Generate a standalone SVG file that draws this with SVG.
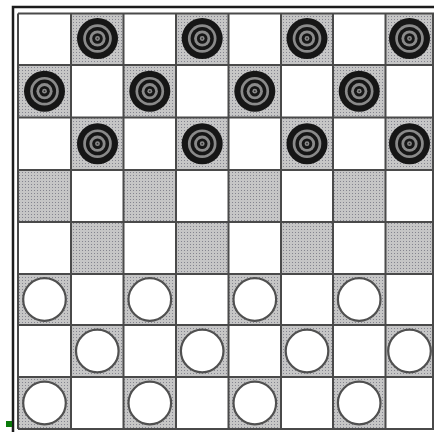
<svg xmlns="http://www.w3.org/2000/svg" xmlns:xlink="http://www.w3.org/1999/xlink" width="434" height="432" viewBox="0 0 434 432">
<style>
.dark{fill:url(#dots)}
.grid line{stroke:#4a4a4a;stroke-width:2}
.frame{fill:none;stroke:#1c1c1c;stroke-width:2.5}
</style>
<defs>
<pattern id="dots" width="3" height="3" patternUnits="userSpaceOnUse">
<rect width="3" height="3" fill="#c6c6c6"/>
<rect x="1" y="1" width="1" height="1" fill="#85858f"/>
</pattern>
<g id="bp">
<circle r="20.5" fill="#161616"/>
<circle r="14.3" fill="#8a8a8a"/>
<circle r="11.6" fill="#161616"/>
<circle r="8.1" fill="#8a8a8a"/>
<circle r="5.3" fill="#161616"/>
<circle r="2.4" fill="#8a8a8a"/>
<circle r="0.9" fill="#333"/>
</g>
<g id="wp">
<circle r="21.3" fill="#fff" stroke="#505050" stroke-width="2.2"/>
</g>
</defs>
<rect width="434" height="432" fill="#fff"/>
<g id="squares">
<rect class="dark" x="71" y="13.5" width="52.5" height="51.5"/>
<rect class="dark" x="176" y="13.5" width="52.5" height="51.5"/>
<rect class="dark" x="281" y="13.5" width="52" height="51.5"/>
<rect class="dark" x="385.5" y="13.5" width="47.5" height="51.5"/>
<rect class="dark" x="18" y="65" width="53" height="52.5"/>
<rect class="dark" x="123.5" y="65" width="52.5" height="52.5"/>
<rect class="dark" x="228.5" y="65" width="52.5" height="52.5"/>
<rect class="dark" x="333" y="65" width="52.5" height="52.5"/>
<rect class="dark" x="71" y="117.5" width="52.5" height="52.5"/>
<rect class="dark" x="176" y="117.5" width="52.5" height="52.5"/>
<rect class="dark" x="281" y="117.5" width="52" height="52.5"/>
<rect class="dark" x="385.5" y="117.5" width="47.5" height="52.5"/>
<rect class="dark" x="18" y="170" width="53" height="52"/>
<rect class="dark" x="123.5" y="170" width="52.5" height="52"/>
<rect class="dark" x="228.5" y="170" width="52.5" height="52"/>
<rect class="dark" x="333" y="170" width="52.5" height="52"/>
<rect class="dark" x="71" y="222" width="52.5" height="52"/>
<rect class="dark" x="176" y="222" width="52.5" height="52"/>
<rect class="dark" x="281" y="222" width="52" height="52"/>
<rect class="dark" x="385.5" y="222" width="47.5" height="52"/>
<rect class="dark" x="18" y="274" width="53" height="51"/>
<rect class="dark" x="123.5" y="274" width="52.5" height="51"/>
<rect class="dark" x="228.5" y="274" width="52.5" height="51"/>
<rect class="dark" x="333" y="274" width="52.5" height="51"/>
<rect class="dark" x="71" y="325" width="52.5" height="52"/>
<rect class="dark" x="176" y="325" width="52.5" height="52"/>
<rect class="dark" x="281" y="325" width="52" height="52"/>
<rect class="dark" x="385.5" y="325" width="47.5" height="52"/>
<rect class="dark" x="18" y="377" width="53" height="52"/>
<rect class="dark" x="123.5" y="377" width="52.5" height="52"/>
<rect class="dark" x="228.5" y="377" width="52.5" height="52"/>
<rect class="dark" x="333" y="377" width="52.5" height="52"/>
</g>
<g class="grid" id="grid">
<line x1="18" y1="13.5" x2="18" y2="429"/>
<line x1="71" y1="13.5" x2="71" y2="429"/>
<line x1="123.5" y1="13.5" x2="123.5" y2="429"/>
<line x1="176" y1="13.5" x2="176" y2="429"/>
<line x1="228.5" y1="13.5" x2="228.5" y2="429"/>
<line x1="281" y1="13.5" x2="281" y2="429"/>
<line x1="333" y1="13.5" x2="333" y2="429"/>
<line x1="385.5" y1="13.5" x2="385.5" y2="429"/>
<line x1="433" y1="13.5" x2="433" y2="429"/>
<line x1="18" y1="13.5" x2="434" y2="13.5"/>
<line x1="18" y1="65" x2="434" y2="65"/>
<line x1="18" y1="117.5" x2="434" y2="117.5"/>
<line x1="18" y1="170" x2="434" y2="170"/>
<line x1="18" y1="222" x2="434" y2="222"/>
<line x1="18" y1="274" x2="434" y2="274"/>
<line x1="18" y1="325" x2="434" y2="325"/>
<line x1="18" y1="377" x2="434" y2="377"/>
<line x1="18" y1="429" x2="434" y2="429"/>
</g>
<path class="frame" d="M13,432 V7 H434"/>
<g id="black-pieces">
<use id="b1" xlink:href="#bp" x="97.5" y="38.5"/>
<use id="b2" xlink:href="#bp" x="202.2" y="38.5"/>
<use id="b3" xlink:href="#bp" x="307" y="38.5"/>
<use id="b4" xlink:href="#bp" x="409.5" y="38.5"/>
<use id="b5" xlink:href="#bp" x="44.5" y="91.2"/>
<use id="b6" xlink:href="#bp" x="149.8" y="91.2"/>
<use id="b7" xlink:href="#bp" x="254.8" y="91.2"/>
<use id="b8" xlink:href="#bp" x="359.2" y="91.2"/>
<use id="b9" xlink:href="#bp" x="97.5" y="143.7"/>
<use id="b10" xlink:href="#bp" x="202.2" y="143.7"/>
<use id="b11" xlink:href="#bp" x="307" y="143.7"/>
<use id="b12" xlink:href="#bp" x="409.5" y="143.7"/>
</g>
<g id="white-pieces">
<use id="w1" xlink:href="#wp" x="44.5" y="299.5"/>
<use id="w2" xlink:href="#wp" x="149.8" y="299.5"/>
<use id="w3" xlink:href="#wp" x="254.8" y="299.5"/>
<use id="w4" xlink:href="#wp" x="359.2" y="299.5"/>
<use id="w5" xlink:href="#wp" x="97.3" y="351"/>
<use id="w6" xlink:href="#wp" x="202.2" y="351"/>
<use id="w7" xlink:href="#wp" x="307" y="351"/>
<use id="w8" xlink:href="#wp" x="409.5" y="351"/>
<use id="w9" xlink:href="#wp" x="44.5" y="403"/>
<use id="w10" xlink:href="#wp" x="149.8" y="403"/>
<use id="w11" xlink:href="#wp" x="254.8" y="403"/>
<use id="w12" xlink:href="#wp" x="359.2" y="403"/>
</g>
<rect id="marker" x="6" y="421" width="6" height="6" fill="#0a7a0a"/>
</svg>
